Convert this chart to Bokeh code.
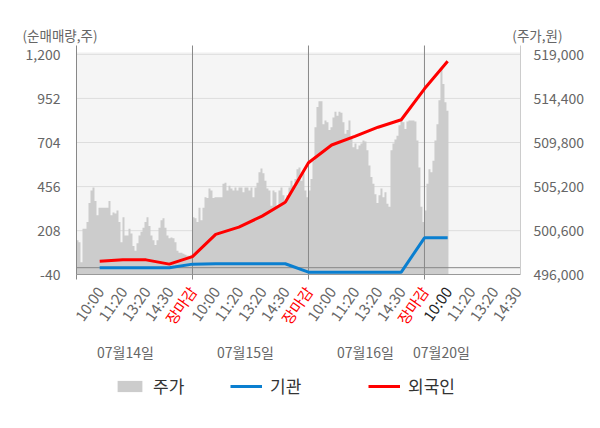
from bokeh.plotting import figure
from bokeh.models import (Range1d, LinearAxis, FixedTicker, NumeralTickFormatter,
                          Legend, LegendItem)
from bokeh.core.properties import value
from bokeh.embed import file_html
from bokeh.resources import INLINE

FONT = "Noto Sans CJK KR"

# ---------------- data ----------------
days = ["07월14일", "07월15일", "07월16일", "07월20일"]
day_ticks = ["10:00", "11:20", "13:20", "14:30", "장마감"]
last_day_ticks = ["10:00", "11:20", "13:20", "14:30"]

# 주가 (price, won) sampled uniformly through each session
price_d1 = [499600, 499400, 497300, 500800, 500800, 501500, 503500, 504800, 505100, 503700,
            502200, 503000, 503000, 503000, 503000, 503000, 503700, 502200, 502500, 502400,
            502700, 501500, 499400, 502000, 500100, 500100, 500800, 500300, 499000, 498500,
            499300, 500100, 500500, 500900, 501500, 502000, 501100, 500100, 499600, 499100,
            499600, 500900, 501700, 501900, 500900, 500100, 499800, 499900, 499800, 499400,
            498500, 498300, 498300, 498200, 498100, 498000, 498000, 498100]
price_d2 = [502000, 501900, 501500, 503000, 501700, 503000, 504100, 504000, 505000, 504800,
            504000, 504100, 504100, 504100, 504100, 505500, 505600, 504800, 505300, 505000,
            504800, 505100, 504800, 505100, 505100, 504600, 505100, 505100, 504800, 505100,
            504100, 505100, 505600, 506700, 507100, 506600, 505800, 505000, 504800, 503200,
            504800, 504600, 503200, 504800, 505100, 504300, 503400, 504300, 505100, 505800,
            505300, 506000, 507000, 507200, 505800, 506600, 504800, 504100]
price_d3 = [504800, 506000, 507900, 511400, 513500, 514100, 514100, 511700, 512100, 511900,
            511100, 511400, 512400, 513000, 512600, 513000, 512900, 511900, 510700, 511100,
            512100, 510200, 509300, 509700, 509100, 509500, 509700, 510000, 509900, 509000,
            507400, 506200, 505500, 504400, 503500, 504300, 505000, 504100, 504600, 503400,
            503100, 509000, 509700, 510100, 510500, 511600, 512100, 511900, 511200, 512000,
            512100, 512100, 512100, 512000, 510000, 507200, 503100, 501500]
price_d4 = [502700, 505500, 507000, 506700, 507900, 510000, 511700, 514200, 517500, 515900,
            514000, 513100]

# 순매매량 (net shares) at each tick time
inst = [0, 0, 0, 0, 20, 22, 22, 22, 22, -25, -25, -25, -25, -25, 168, 168]               # 기관
foreign = [36, 44, 44, 20, 62, 187, 228, 290, 368, 590, 690, 738, 790, 832, 1006, 1161]  # 외국인

left_ticks = [-40, 208, 456, 704, 952, 1200]
right_ticks = [496000, 500600, 505200, 509800, 514400, 519000]

# ---------------- layout constants (pixels) ----------------
W, H = 584, 412
FRAME_L, FRAME_R = 76, 520          # plot area left / right
FRAME_T, FRAME_B = 45, 274.3        # plot area top / bottom (value -40)
SHADE_T = 51.7
TICK_GAP_PX = 44.1                  # pixels between left ticks
SLOTS = len(day_ticks)
X_END = 19.14
SU = (FRAME_R - FRAME_L) / X_END
UPX = (left_ticks[1] - left_ticks[0]) / TICK_GAP_PX
RATIO = (right_ticks[1] - right_ticks[0]) / (left_ticks[1] - left_ticks[0])
Y0 = left_ticks[0]


def px2x(px):
    return (px - FRAME_L) / SU


def py2y(py):
    return Y0 + (FRAME_B - py) * UPX


def to_price(v):
    return right_ticks[0] + (v - Y0) * RATIO


Y_END = py2y(FRAME_T)
SHADE_TOP = py2y(SHADE_T)

prices_all = [price_d1, price_d2, price_d3, price_d4]
n_per_day = len(price_d1)
step = SLOTS / n_per_day
xs, ps = [], []
for d, arr in enumerate(prices_all):
    for i, v in enumerate(arr):
        xs.append(d * SLOTS + i * step)
        ps.append(v)
xs.append(xs[-1] + step)
ps.append(ps[-1])

line_x = [d * SLOTS + k + 1 for d in range(len(days) - 1) for k in range(SLOTS)] + [3 * SLOTS + 1]

p = figure(width=W, height=H,
           x_range=Range1d(px2x(0), px2x(W)), y_range=Range1d(py2y(H), py2y(0)),
           output_backend="svg", toolbar_location=None,
           x_axis_location=None, y_axis_location=None,
           min_border_left=0, min_border_right=0, min_border_top=0, min_border_bottom=0)
p.background_fill_color = "white"
p.border_fill_color = "white"
p.outline_line_color = None
p.grid.visible = False
p.extra_y_ranges = {"price": Range1d(to_price(py2y(H)), to_price(py2y(0)))}

# left axis
ya = LinearAxis(ticker=FixedTicker(ticks=left_ticks), formatter=NumeralTickFormatter(format="0,0"),
                fixed_location=0, bounds=(Y0, Y_END))
ya.major_tick_line_color = None
ya.minor_tick_line_color = None
ya.axis_line_color = "#888888"
ya.major_label_text_color = "#666666"
ya.major_label_text_font = FONT
ya.major_label_text_font_size = "14px"
ya.major_label_standoff = 10
p.add_layout(ya, "left")

# right axis
ra = LinearAxis(y_range_name="price", ticker=FixedTicker(ticks=right_ticks),
                formatter=NumeralTickFormatter(format="0,0"),
                fixed_location=X_END, bounds=(right_ticks[0], to_price(Y_END)))
ra.major_tick_line_color = None
ra.minor_tick_line_color = None
ra.axis_line_color = "#cccccc"
ra.major_label_text_color = "#666666"
ra.major_label_text_font = FONT
ra.major_label_text_font_size = "14px"
ra.major_label_standoff = 7
p.add_layout(ra, "right")

# bottom axis (day boundaries)
bounds = [d * SLOTS for d in range(len(days))]
xa = LinearAxis(ticker=FixedTicker(ticks=bounds), fixed_location=Y0, bounds=(0, X_END))
xa.major_label_overrides = {b: "" for b in bounds}
xa.major_label_text_font_size = "0px"
xa.major_label_standoff = 0
xa.major_tick_in = 0
xa.major_tick_out = 5
xa.major_tick_line_color = "#888888"
xa.minor_tick_line_color = None
xa.axis_line_color = "#999999"
p.add_layout(xa, "below")

# plot-area shading, grid lines
p.quad(left=0, right=X_END, bottom=Y0, top=SHADE_TOP, fill_color="#f5f5f5", line_color=None)
grid_y = left_ticks[1:]
p.segment(x0=[0] * len(grid_y), y0=grid_y, x1=[X_END] * len(grid_y), y1=grid_y,
          line_color="#dddddd", line_width=1)

# marks
area = p.varea_step(x=xs, y1=right_ticks[0], y2=ps, step_mode="after", fill_color="#cccccc",
                    y_range_name="price")
seps = bounds[1:]
p.segment(x0=seps, y0=[Y0] * len(seps), x1=seps, y1=[Y_END] * len(seps),
          line_color="#888888", line_width=1)
p.segment(x0=[0], y0=[0], x1=[X_END], y1=[0], line_color="#888888", line_width=1)
l_inst = p.line(line_x, inst, line_color="#0a7fd0", line_width=3)
l_for = p.line(line_x, foreign, line_color="#ff0000", line_width=3)

# axis titles
p.text(x=[px2x(22)], y=[py2y(34)], text=["(순매매량,주)"], text_font=value(FONT),
       text_font_size="13.5px", text_color="#666666", text_align="left", text_baseline="middle")
p.text(x=[px2x(562)], y=[py2y(34)], text=["(주가,원)"], text_font=value(FONT),
       text_font_size="13.5px", text_color="#666666", text_align="right", text_baseline="middle")

# x tick labels
tick_x = [d * SLOTS + k + 1 for d in range(len(days) - 1) for k in range(SLOTS)] + \
         [3 * SLOTS + k + 1 for k in range(len(last_day_ticks))]
tick_text = day_ticks * (len(days) - 1) + last_day_ticks
tick_col = []
for i, t in enumerate(tick_text):
    if t == "장마감":
        tick_col.append("#ff0000")
    elif i == 3 * SLOTS:
        tick_col.append("#222222")
    else:
        tick_col.append("#666666")
p.text(x=tick_x, y=[py2y(287.6)] * len(tick_x), text=tick_text, text_color=tick_col,
       text_font=value(FONT), text_font_size="15px", text_align="right",
       text_baseline="middle", angle=55, angle_units="deg")

# date labels
date_px = [125, 245, 365, 441]
p.text(x=[px2x(v) for v in date_px], y=[py2y(351.7)] * len(days), text=days,
       text_font=value(FONT), text_font_size="14px", text_color="#666666",
       text_align="center", text_baseline="middle")

# legends
for lbl, rend, lx, gw in [("주가", area, 114, 31), ("기관", l_inst, 230, 32),
                          ("외국인", l_for, 368, 32)]:
    lg = Legend(items=[LegendItem(label=lbl, renderers=[rend])], location=(lx, 14),
                orientation="horizontal", padding=0, margin=0, spacing=0,
                glyph_width=gw, glyph_height=14, label_standoff=8,
                label_text_font=FONT, label_text_font_size="17px", label_text_color="#333333",
                border_line_color=None, background_fill_alpha=0)
    p.add_layout(lg)

open("out.html", "w").write(file_html(p, INLINE))
